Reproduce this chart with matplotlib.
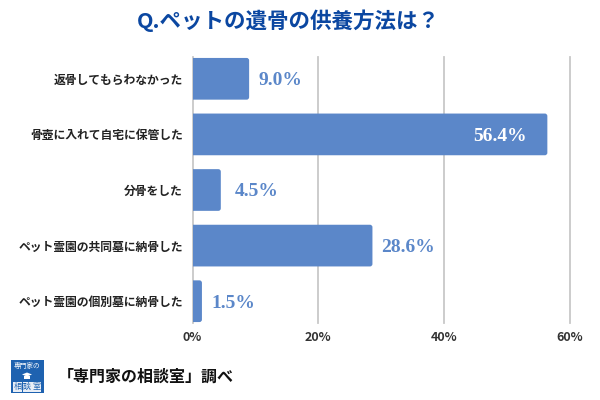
import matplotlib
matplotlib.use('Agg')
import matplotlib.pyplot as plt
from matplotlib.patches import FancyBboxPatch, Rectangle, Polygon

plt.rcParams['font.family'] = ['Noto Sans CJK JP', 'DejaVu Sans']

categories = ['返骨してもらわなかった', '骨壺に入れて自宅に保管した', '分骨をした',
              'ペット霊園の共同墓に納骨した', 'ペット霊園の個別墓に納骨した']
values = [9.0, 56.4, 4.5, 28.6, 1.5]
ticks = [0, 20, 40, 60]
tick_labels = ['0%', '20%', '40%', '60%']
title = 'Q.ペットの遺骨の供養方法は？'
source = '「専門家の相談室」調べ'
logo_top = '専門家の'
logo_bottom = ['相', '談', '室']

BAR_COLOR = '#5b87c9'
LOGO_BLUE = '#1e62b0'
W, H = 600, 400
# gap in px between bar end and its label, the 4.5% one sits further out
LABEL_GAP = {2: 14}

fig = plt.figure(figsize=(6, 4), dpi=100, facecolor='white')
# axes box in pixels: x 192.5-570, y 51-329
ax = fig.add_axes([192.5 / W, 1 - 329 / H, (570 - 192.5) / W, (329 - 51) / H])
ax.set_xlim(0, 60)
ax.set_ylim(len(values) - 0.5, -0.5)

# grid stops a bit short of the band edges
for t in ticks:
    ax.plot([t, t], [4.39, -0.39], color='#c8c8c8', lw=1.3, zorder=1, clip_on=False)

bar_h = 0.75
aspect = 55.6 / (377.5 / 60)  # px per y unit / px per x unit
for i, v in enumerate(values):
    # start left of zero so only the right corners show rounded
    box = FancyBboxPatch((-1, i - bar_h / 2), v + 1, bar_h,
                         boxstyle='round,pad=0,rounding_size=0.4',
                         mutation_aspect=1 / aspect, fc=BAR_COLOR, ec='none', zorder=2)
    ax.add_patch(box)
    label = '{:.1f}%'.format(v)
    if v > 50:
        ax.annotate(label, (v, i), xytext=(-15, -1.4), textcoords='offset points',
                    color='white', ha='right', va='center', fontsize=14,
                    family='Liberation Serif', weight='bold', zorder=3)
    else:
        gap = LABEL_GAP.get(i, 9)
        ax.annotate(label, (v, i), xytext=(gap * 0.72, -1.4), textcoords='offset points',
                    color=BAR_COLOR, ha='left', va='center', fontsize=14,
                    family='Liberation Serif', weight='bold', zorder=3)

for s in ax.spines.values():
    s.set_visible(False)
ax.set_yticks(range(len(categories)))
ax.set_yticklabels(categories, fontsize=8.5, weight='bold', color='#222222')
ax.set_xticks(ticks)
ax.set_xticklabels(tick_labels, fontsize=9, weight='bold', color='#333333')
ax.tick_params(length=0)
ax.tick_params(axis='y', pad=7)
ax.tick_params(axis='x', pad=1.2)

fig.text(288.5 / W, 1 - 21 / H, title, ha='center', va='center', fontsize=15.5,
         weight='bold', color='#0b47a1')
fig.text(58 / W, 1 - 377 / H, source, ha='left', va='center', fontsize=11.5,
         weight='bold', color='#111111')

# logo
fig.add_artist(Rectangle((10.5 / W, 1 - 393 / H), 33 / W, 33 / H, transform=fig.transFigure,
                         fc=LOGO_BLUE, ec='none'))
fig.text(27 / W, 1 - 366 / H, logo_top, ha='center', va='center', fontsize=4.8,
         color='white')
# small graduation cap
fig.add_artist(Polygon([(22 / W, 1 - 374.5 / H), (27 / W, 1 - 372.5 / H), (32 / W, 1 - 374.5 / H),
                        (27 / W, 1 - 376.5 / H)], closed=True, transform=fig.transFigure,
                       fc='white', ec='none'))
fig.add_artist(Rectangle((24 / W, 1 - 379 / H), 6 / W, 3.2 / H, transform=fig.transFigure,
                         fc='white', ec='none'))
for k, ch in enumerate(logo_bottom):
    cx = 17.5 + k * 9.6
    fig.add_artist(Rectangle(((cx - 4.4) / W, 1 - 391.5 / H), 8.8 / W, 9.5 / H,
                             transform=fig.transFigure, fc='#e8eef6', ec='none'))
    fig.text(cx / W, 1 - 386.7 / H, ch, ha='center', va='center', fontsize=5.8,
             color=LOGO_BLUE)

fig.savefig('out.png', dpi=100)
